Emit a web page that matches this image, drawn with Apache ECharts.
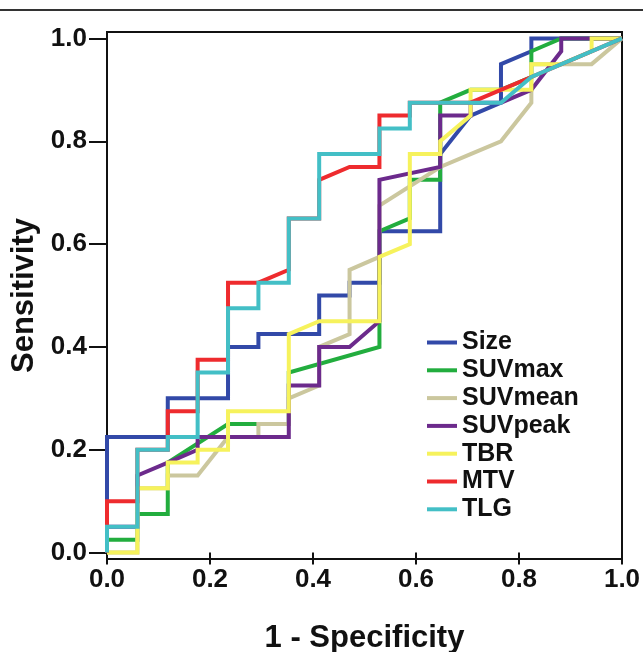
<!DOCTYPE html>
<html>
<head>
<meta charset="utf-8">
<script src="https://cdn.jsdelivr.net/npm/echarts@6/dist/echarts.min.js"></script>
<style>
html,body{margin:0;padding:0;background:#fff;}
#chart{width:643px;height:652px;}
</style>
</head>
<body>
<div id="chart"></div>
<script>
// ROC curve points: [1 - Specificity, Sensitivity]
const seriesNames = ['Size', 'SUVmax', 'SUVmean', 'SUVpeak', 'TBR', 'MTV', 'TLG'];
const seriesColors = ['#3249a8', '#22ad3e', '#cbc79e', '#6c2a8c', '#f6f25c', '#ee2b2e', '#43bfc6'];
const tickValues = [0, 0.2, 0.4, 0.6, 0.8, 1.0];

const sizePts = [[0,0],[0,0.225],[0.118,0.225],[0.118,0.3],[0.235,0.3],[0.235,0.4],[0.294,0.4],[0.294,0.425],[0.412,0.425],[0.412,0.5],[0.471,0.5],[0.471,0.525],[0.529,0.525],[0.529,0.625],[0.647,0.625],[0.647,0.775],[0.706,0.85],[0.765,0.875],[0.765,0.95],[0.824,0.975],[0.824,1],[1,1]];
const suvmaxPts = [[0,0],[0,0.025],[0.059,0.025],[0.059,0.075],[0.118,0.075],[0.118,0.175],[0.235,0.25],[0.353,0.25],[0.353,0.35],[0.529,0.4],[0.529,0.625],[0.588,0.65],[0.588,0.725],[0.647,0.725],[0.647,0.875],[0.706,0.9],[0.765,0.9],[0.824,0.925],[0.824,0.975],[0.882,1],[1,1]];
const suvmeanPts = [[0,0],[0.059,0],[0.059,0.125],[0.118,0.125],[0.118,0.15],[0.176,0.15],[0.235,0.225],[0.294,0.225],[0.294,0.25],[0.353,0.25],[0.353,0.3],[0.412,0.325],[0.412,0.4],[0.471,0.425],[0.471,0.55],[0.529,0.575],[0.529,0.675],[0.647,0.75],[0.706,0.775],[0.765,0.8],[0.824,0.875],[0.824,0.95],[0.941,0.95],[1,1]];
const suvpeakPts = [[0,0],[0,0.05],[0.059,0.05],[0.059,0.15],[0.118,0.175],[0.176,0.2],[0.176,0.225],[0.353,0.225],[0.353,0.325],[0.412,0.325],[0.412,0.4],[0.471,0.4],[0.529,0.45],[0.529,0.725],[0.647,0.75],[0.647,0.85],[0.706,0.85],[0.706,0.875],[0.765,0.875],[0.824,0.9],[0.882,0.975],[0.882,1],[1,1]];
const tbrPts = [[0,0],[0.059,0],[0.059,0.125],[0.118,0.125],[0.118,0.175],[0.176,0.175],[0.176,0.2],[0.235,0.2],[0.235,0.275],[0.353,0.275],[0.353,0.425],[0.412,0.45],[0.529,0.45],[0.529,0.575],[0.588,0.6],[0.588,0.775],[0.647,0.775],[0.647,0.8],[0.706,0.85],[0.706,0.9],[0.824,0.9],[0.824,0.95],[0.882,0.95],[0.941,0.975],[0.941,1],[1,1]];
const mtvPts = [[0,0],[0,0.1],[0.059,0.1],[0.059,0.2],[0.118,0.2],[0.118,0.275],[0.176,0.275],[0.176,0.375],[0.235,0.375],[0.235,0.525],[0.294,0.525],[0.353,0.55],[0.353,0.65],[0.412,0.65],[0.412,0.725],[0.471,0.75],[0.529,0.75],[0.529,0.85],[0.588,0.85],[0.588,0.875],[0.706,0.875],[0.824,0.925],[1,1]];
const tlgPts = [[0,0],[0,0.05],[0.059,0.05],[0.059,0.2],[0.118,0.2],[0.118,0.225],[0.176,0.225],[0.176,0.35],[0.235,0.35],[0.235,0.475],[0.294,0.475],[0.294,0.525],[0.353,0.525],[0.353,0.65],[0.412,0.65],[0.412,0.775],[0.529,0.775],[0.529,0.825],[0.588,0.825],[0.588,0.875],[0.765,0.875],[0.824,0.925],[1,1]];

const allPts = [sizePts, suvmaxPts, suvmeanPts, suvpeakPts, tbrPts, mtvPts, tlgPts];

const chart = echarts.init(document.getElementById('chart'), null, {renderer: 'canvas'});
const fontFam = '"Liberation Sans", Arial, sans-serif';

const option = {
  animation: false,
  backgroundColor: '#fff',
  graphic: [{
    type: 'line',
    shape: {x1: 0, y1: 10, x2: 643, y2: 10},
    style: {stroke: '#333', lineWidth: 2}
  }],
  grid: {
    left: 107, right: 21, top: 32, bottom: 93,
    outerBoundsMode: 'none',
    containLabel: false,
    show: true, borderColor: '#111', borderWidth: 2, backgroundColor: 'transparent'
  },
  legend: {
    orient: 'vertical',
    left: 427, top: 330,
    padding: 0,
    icon: 'rect',
    itemWidth: 30, itemHeight: 4,
    itemGap: 2.8,
    data: seriesNames,
    textStyle: {fontFamily: fontFam, fontWeight: 'bold', fontSize: 25, color: '#111', padding: [0,0,0,0]}
  },
  xAxis: {
    type: 'value', min: 0, max: 1, interval: 0.2,
    name: '1 - Specificity', nameLocation: 'middle', nameGap: 64,
    nameTextStyle: {fontFamily: fontFam, fontWeight: 'bold', fontSize: 31, color: '#111'},
    axisLine: {show: false},
    axisTick: {show: true, length: 12, lineStyle: {color: '#111', width: 2}},
    axisLabel: {margin: 8, fontFamily: fontFam, fontWeight: 'bold', fontSize: 26, color: '#111',
      formatter: v => v.toFixed(1)},
    splitLine: {show: false}
  },
  yAxis: {
    type: 'value', min: -0.0125, max: 1.0125,
    name: 'Sensitivity', nameLocation: 'middle', nameGap: 60,
    nameTextStyle: {fontFamily: fontFam, fontWeight: 'bold', fontSize: 31, color: '#111'},
    axisLine: {show: false},
    axisTick: {show: true, length: 18, customValues: tickValues, lineStyle: {color: '#111', width: 2}},
    axisLabel: {margin: 20, customValues: tickValues, fontFamily: fontFam, fontWeight: 'bold', fontSize: 26, color: '#111',
      formatter: v => v.toFixed(1)},
    splitLine: {show: false}
  },
  series: seriesNames.map((name, i) => ({
    name: name,
    type: 'line',
    data: allPts[i],
    showSymbol: false,
    symbol: 'none',
    color: seriesColors[i],
    lineStyle: {width: 4, color: seriesColors[i], join: 'miter'},
    z: 2 + i
  }))
};
chart.setOption(option);
</script>
</body>
</html>
